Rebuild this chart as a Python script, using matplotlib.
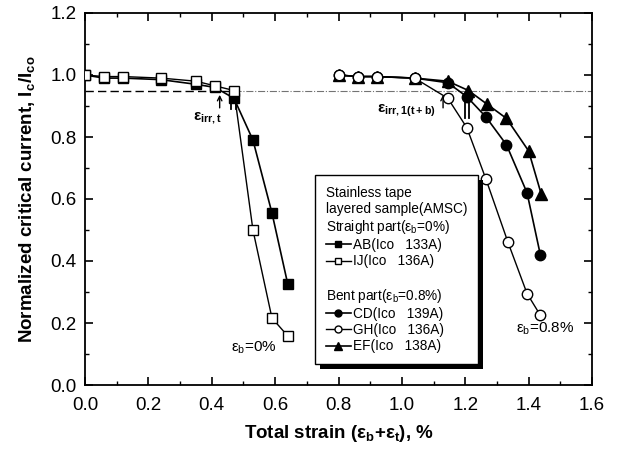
import numpy as np
import matplotlib
matplotlib.use("Agg")
import matplotlib.pyplot as plt
from matplotlib.lines import Line2D
from matplotlib.patches import Rectangle
from matplotlib.ticker import MultipleLocator

plt.rcParams['font.family'] = ['Liberation Sans', 'DejaVu Sans']
plt.rcParams['mathtext.fontset'] = 'custom'
plt.rcParams['mathtext.rm'] = 'Liberation Sans'
plt.rcParams['mathtext.bf'] = 'Liberation Sans:bold'

# ---- data ----
ab_x = [0.0, 0.06, 0.12, 0.24, 0.35, 0.41, 0.47, 0.53, 0.59, 0.64]
ab_y = [1.0, 0.99, 0.99, 0.985, 0.97, 0.96, 0.925, 0.79, 0.555, 0.325]

ij_x = [0.0, 0.06, 0.12, 0.24, 0.35, 0.41, 0.47, 0.53, 0.59, 0.64]
ij_y = [1.0, 0.995, 0.995, 0.99, 0.98, 0.965, 0.95, 0.50, 0.216, 0.158]

cd_x = [0.80, 0.86, 0.92, 1.04, 1.145, 1.205, 1.265, 1.33, 1.395, 1.437]
cd_y = [1.0, 0.995, 0.995, 0.99, 0.975, 0.93, 0.865, 0.775, 0.62, 0.42]

gh_x = [0.80, 0.86, 0.92, 1.04, 1.145, 1.205, 1.265, 1.335, 1.395, 1.437]
gh_y = [1.0, 0.995, 0.995, 0.99, 0.925, 0.83, 0.665, 0.46, 0.295, 0.225]

ef_x = [0.80, 0.86, 0.92, 1.04, 1.145, 1.21, 1.27, 1.33, 1.40, 1.44]
ef_y = [1.0, 0.995, 0.995, 0.99, 0.98, 0.95, 0.905, 0.86, 0.755, 0.615]

ref_level = 0.95
dash_end = 0.47

# arrows: (x, y_start, y_end)
arrows_main = [(0.425, 0.885, 0.945), (1.13, 0.885, 0.945)]
arrows_small = [(0.46, 0.89, 0.93), (0.475, 0.89, 0.93), (1.20, 0.86, 0.93), (1.212, 0.86, 0.93)]

# ---- figure ----
fig = plt.figure(figsize=(6.19, 4.5), dpi=100)
ax = fig.add_axes([85/619, 1 - 385/450, 507/619, 372/450])

ax.plot([0, dash_end], [ref_level, ref_level], '--', color='black', lw=1.0, dashes=(6, 3), zorder=1)
ax.plot([dash_end, 1.6], [ref_level, ref_level], '-.', color='0.45', lw=0.8, zorder=1)

ms = 7.5
ax.plot(ab_x, ab_y, '-s', color='black', mfc='black', ms=ms, lw=1.2, zorder=3)
ax.plot(ij_x, ij_y, '-s', color='black', mfc='white', ms=ms, lw=1.0, zorder=4)
ax.plot(cd_x, cd_y, '-o', color='black', mfc='black', ms=ms, lw=1.2, zorder=3)
ax.plot(gh_x, gh_y, '-o', color='black', mfc='white', ms=ms, lw=1.0, zorder=4)
ax.plot(ef_x, ef_y, '-^', color='black', mfc='black', ms=ms + 1, lw=1.2, zorder=3)

for x, y0, y1 in arrows_main:
    ax.annotate('', xy=(x, y1), xytext=(x, y0),
                arrowprops=dict(arrowstyle='->', color='black', lw=1.0, mutation_scale=8))
for x, y0, y1 in arrows_small:
    ax.plot([x, x], [y0, y1], color='black', lw=1.3, zorder=2)

ax.text(0.34, 0.86, r'$\mathbf{\varepsilon_{irr,t}}$', fontsize=11, ha='left', va='center')
ax.text(0.92, 0.885, r'$\mathbf{\varepsilon_{irr,1(t+b)}}$', fontsize=11, ha='left', va='center')
ax.text(0.46, 0.12, r'$\mathregular{\varepsilon_b}$=0%', fontsize=11, ha='left', va='center')
ax.text(1.36, 0.18, r'$\mathregular{\varepsilon_b}$=0.8%', fontsize=11, ha='left', va='center')

ax.set_xlim(0, 1.6)
ax.set_ylim(0, 1.2)
ax.xaxis.set_major_locator(MultipleLocator(0.2))
ax.xaxis.set_minor_locator(MultipleLocator(0.1))
ax.yaxis.set_major_locator(MultipleLocator(0.2))
ax.yaxis.set_minor_locator(MultipleLocator(0.1))
ax.xaxis.set_major_formatter(matplotlib.ticker.FormatStrFormatter('%.1f'))
ax.yaxis.set_major_formatter(matplotlib.ticker.FormatStrFormatter('%.1f'))
ax.tick_params(which='both', direction='in', top=True, right=True, labelsize=13.5)
ax.tick_params(which='major', length=6, width=1.2)
ax.tick_params(which='minor', length=3, width=1.0)
ax.tick_params(axis='x', which='major', pad=9)
ax.tick_params(axis='y', which='major', pad=6)
for s in ax.spines.values():
    s.set_linewidth(1.3)

ax.set_xlabel(r'Total strain ($\mathbf{\varepsilon_b}$+$\mathbf{\varepsilon_t}$), %',
              fontsize=13.5, fontweight='bold', labelpad=6)
ax.set_ylabel(r'Normalized critical current, I$\mathbf{_c}$/I$\mathbf{_{co}}$',
              fontsize=13.5, fontweight='bold', labelpad=10)

# ---- legend ----
blank = Line2D([], [], linestyle='none')
handles = [
    blank, blank, blank,
    Line2D([], [], color='black', marker='s', mfc='black', ms=5, lw=1.2),
    Line2D([], [], color='black', marker='s', mfc='white', ms=5, lw=1.0),
    blank, blank,
    Line2D([], [], color='black', marker='o', mfc='black', ms=5, lw=1.2),
    Line2D([], [], color='black', marker='o', mfc='white', ms=5, lw=1.0),
    Line2D([], [], color='black', marker='^', mfc='black', ms=6, lw=1.2),
]
labels = [
    'Stainless tape',
    'layered sample(AMSC)',
    r'Straight part($\mathregular{\varepsilon_b}$=0%)',
    'AB(Ico   133A)',
    'IJ(Ico   136A)',
    ' ',
    r'Bent part($\mathregular{\varepsilon_b}$=0.8%)',
    'CD(Ico   139A)',
    'GH(Ico   136A)',
    'EF(Ico   138A)',
]
header_idx = {0, 1, 2, 5, 6}
leg = ax.legend(handles, labels, loc='upper left', bbox_to_anchor=(0.454, 0.565),
                fontsize=9.8, frameon=True, fancybox=False, edgecolor='black',
                facecolor='white', framealpha=1.0,
                handlelength=1.8, handletextpad=0.2, labelspacing=0.16,
                borderpad=0.8, borderaxespad=0)
leg.get_frame().set_linewidth(1.0)
leg.set_zorder(6)

# headers start at the left edge, no handle space
rows = leg._legend_handle_box.get_children()[0].get_children()
for i, row in enumerate(rows):
    if i in header_idx:
        da = row.get_children()[0]
        da.width = 0
        row.sep = 0

fig.canvas.draw()
bb = leg.get_window_extent()
shadow = Rectangle((bb.x0 + 5, bb.y0 - 5), bb.width, bb.height, transform=None,
                   facecolor='black', edgecolor='none', zorder=5)
ax.add_artist(shadow)
shadow.set_clip_on(False)

fig.savefig('out.png', dpi=100)
